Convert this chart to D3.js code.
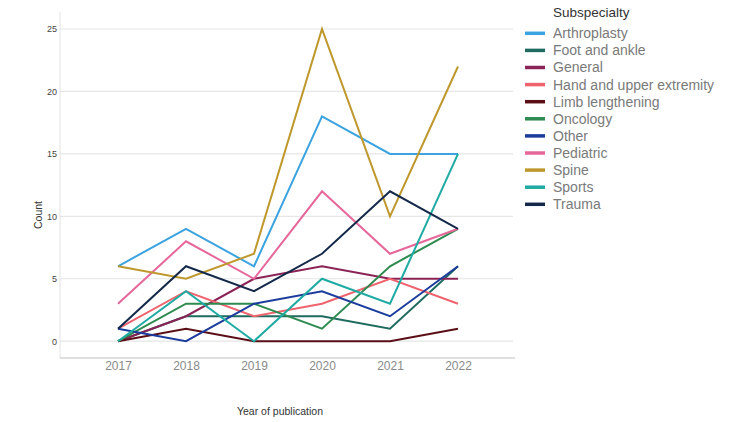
<!DOCTYPE html>
<html>
<head>
<meta charset="utf-8">
<script src="https://cdn.jsdelivr.net/npm/d3@7"></script>
<style>
  body { margin: 0; background: #fff; }
  svg { display: block; font-family: "Liberation Sans", Arial, sans-serif; }
</style>
</head>
<body>
<svg id="chart" width="750" height="422"></svg>
<script>
const years = [2017, 2018, 2019, 2020, 2021, 2022];
const yTicks = [0, 5, 10, 15, 20, 25];

const arthroplasty    = [6, 9, 6, 18, 15, 15];
const footAndAnkle    = [0, 2, 2, 2, 1, 6];
const general         = [0, 2, 5, 6, 5, 5];
const handUpper       = [1, 4, 2, 3, 5, 3];
const limbLengthening = [0, 1, 0, 0, 0, 1];
const oncology        = [0, 3, 3, 1, 6, 9];
const other           = [1, 0, 3, 4, 2, 6];
const pediatric       = [3, 8, 5, 12, 7, 9];
const spine           = [6, 5, 7, 25, 10, 22];
const sports          = [0, 4, 0, 5, 3, 15];
const trauma          = [1, 6, 4, 7, 12, 9];

const seriesNames = ["Arthroplasty", "Foot and ankle", "General", "Hand and upper extremity",
  "Limb lengthening", "Oncology", "Other", "Pediatric", "Spine", "Sports", "Trauma"];
const seriesValues = [arthroplasty, footAndAnkle, general, handUpper, limbLengthening,
  oncology, other, pediatric, spine, sports, trauma];
const colors = ["#3aa3e0", "#1f6b5f", "#8a2456", "#ee636d", "#5a0f17", "#2e8b50",
  "#1b3c9c", "#e6679a", "#be982d", "#1faaa2", "#14294a"];

const series = seriesNames.map((name, i) => ({ name, values: seriesValues[i], color: colors[i] }));

const svg = d3.select("#chart");

const x = d3.scaleLinear().domain([2017, 2022]).range([118, 458]);
const y = d3.scaleLinear().domain([0, 25]).range([341.2, 29]);

const pLeft = 60, pRight = 515, pTop = 12, pBottom = 358;

// gridlines
svg.append("g").selectAll("line").data(yTicks).join("line")
  .attr("x1", pLeft).attr("x2", 513)
  .attr("y1", d => y(d)).attr("y2", d => y(d))
  .attr("stroke", "#e6e6e6").attr("stroke-width", 1.2);

// left frame line
svg.append("line").attr("x1", pLeft).attr("x2", pLeft).attr("y1", pTop).attr("y2", pBottom)
  .attr("stroke", "#e2e2e2").attr("stroke-width", 1);
// bottom axis line
svg.append("line").attr("x1", pLeft).attr("x2", pRight).attr("y1", pBottom).attr("y2", pBottom)
  .attr("stroke", "#d4d4d4").attr("stroke-width", 1.5);

// y axis labels
const yAxis = svg.append("g").attr("transform", `translate(${pLeft},0)`)
  .call(d3.axisLeft(y).tickValues(yTicks).tickSize(0).tickPadding(3));
yAxis.select(".domain").remove();
yAxis.selectAll("text").attr("font-size", 9).attr("fill", "#444")
  .attr("font-family", "Liberation Sans, Arial, sans-serif");

// x axis labels
const xAxis = svg.append("g").attr("transform", `translate(0,${pBottom})`)
  .call(d3.axisBottom(x).tickValues(years).tickFormat(d3.format("d")).tickSize(0).tickPadding(3));
xAxis.select(".domain").remove();
xAxis.selectAll("text").attr("font-size", 12).attr("fill", "#8a8a8a")
  .attr("font-family", "Liberation Sans, Arial, sans-serif");

// axis titles
svg.append("text").attr("x", 280).attr("y", 415).attr("text-anchor", "middle")
  .attr("font-size", 10.5).attr("fill", "#333").text("Year of publication");
svg.append("text").attr("transform", "translate(42,215) rotate(-90)")
  .attr("text-anchor", "middle").attr("font-size", 10.5).attr("fill", "#333").text("Count");

// lines
const line = d3.line().x((d, i) => x(years[i])).y(d => y(d));
svg.append("g").selectAll("path").data(series).join("path")
  .attr("d", d => line(d.values))
  .attr("fill", "none").attr("stroke", d => d.color)
  .attr("stroke-width", 2).attr("stroke-linejoin", "miter");

// legend
const lg = svg.append("g");
lg.append("text").attr("x", 553).attr("y", 17).attr("font-size", 13.5).attr("fill", "#333")
  .text("Subspecialty");
const items = lg.selectAll("g.item").data(series).join("g").attr("class", "item")
  .attr("transform", (d, i) => `translate(0,${33.3 + i * 17.1})`);
items.append("line").attr("x1", 525).attr("x2", 545).attr("y1", 0).attr("y2", 0)
  .attr("stroke", d => d.color).attr("stroke-width", 3.5);
items.append("text").attr("x", 553).attr("y", 0).attr("dy", "0.35em")
  .attr("font-size", 14).attr("fill", "#7a7a7a").text(d => d.name);
</script>
</body>
</html>
